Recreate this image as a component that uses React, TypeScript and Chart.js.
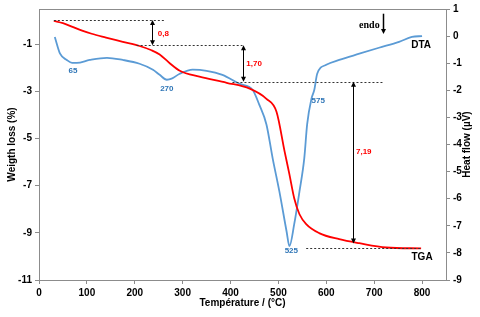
import React, { useEffect, useRef } from "react";
import { Chart, registerables } from "chart.js";
Chart.register(...registerables);

// TGA (weight loss, left axis)
const tgaTemp = [31, 50, 70, 90, 110, 140, 175, 210, 235, 252, 273, 294, 335, 392, 440, 475, 496, 513, 523, 533, 544, 558, 585, 627, 669, 725, 798];
const tgaLoss = [0, -0.1, -0.26, -0.42, -0.55, -0.71, -0.89, -1.07, -1.25, -1.43, -1.8, -2.12, -2.37, -2.63, -2.88, -3.31, -3.86, -5.55, -6.52, -7.53, -8.21, -8.63, -9.01, -9.27, -9.44, -9.62, -9.66];

// DTA (heat flow, right axis)
const dtaTemp = [33, 44, 58, 69, 79, 106, 142, 175, 210, 238, 252, 267, 277, 294, 321, 350, 383, 419, 446, 460, 475, 488, 502, 517, 523, 533, 544, 554, 560, 569, 575, 581, 600, 627, 669, 710, 752, 779, 800];
const dtaFlow = [-0.03, -0.65, -0.88, -0.99, -0.99, -0.88, -0.8, -0.88, -1.02, -1.24, -1.43, -1.61, -1.57, -1.39, -1.24, -1.28, -1.43, -1.76, -1.98, -2.53, -3.26, -4.51, -5.73, -7.2, -7.75, -6.94, -5.73, -4.51, -3.26, -2.31, -1.98, -1.39, -1.06, -0.88, -0.65, -0.43, -0.21, -0.03, 0];

const xTickValues = [0, 100, 200, 300, 400, 500, 600, 700, 800];
const leftTickValues = [-11, -9, -7, -5, -3, -1];
const rightTickValues = [-9, -8, -7, -6, -5, -4, -3, -2, -1, 0, 1];

// annotations (left-axis units)
const dashStart = [31, 204, 404, 558];
const dashEnd = [262, 425, 721, 798];
const dashLevel = [0.03, -1.04, -2.59, -9.65];
const arrowTemp = [237, 425, 656];
const arrowTop = [0.03, -1.04, -2.59];
const arrowBottom = [-1.04, -2.59, -9.45];
const lossLabels = ["0,8", "1,70", "7,19"];
const lossLabelTemp = [248, 433, 662];
const lossLabelLevel = [-0.56, -1.83, -5.55];
const peakLabels = ["65", "270", "575", "525"];
const peakLabelTemp = [71, 267, 583, 527];
const peakLabelLevel = [-2.12, -2.88, -3.39, -9.77];
const curveLabels = ["DTA", "TGA"];
const curveLabelTemp = [798, 800];
const curveLabelLevel = [-1.02, -10.03];
const endoLabelTemp = 690;
const endoLabelLevel = -0.18;
const endoArrowTemp = 719;
const endoArrowTop = 0.3;
const endoArrowBottom = -0.56;

const RED = "#ff0000";
const BLUE = "#5b9bd5";
const SANS = "'Liberation Sans', Arial, sans-serif";

function arrowHead(ctx: CanvasRenderingContext2D, x: number, y: number, dir: number) {
  ctx.beginPath();
  ctx.moveTo(x, y);
  ctx.lineTo(x - 2.5, y - dir * 5);
  ctx.lineTo(x + 2.5, y - dir * 5);
  ctx.closePath();
  ctx.fill();
}

const annotPlugin = {
  id: "annot",
  afterDatasetsDraw(chart: any) {
    const ctx: CanvasRenderingContext2D = chart.ctx;
    const xs = chart.scales.x;
    const yl = chart.scales.y;
    const ca = chart.chartArea;
    ctx.save();
    // top border
    ctx.strokeStyle = "#8c8c8c";
    ctx.lineWidth = 1;
    ctx.beginPath();
    ctx.moveTo(ca.left, ca.top + 0.5);
    ctx.lineTo(ca.right, ca.top + 0.5);
    ctx.stroke();
    // dashed lines
    ctx.strokeStyle = "#333";
    ctx.setLineDash([2, 2]);
    for (let i = 0; i < dashStart.length; i++) {
      const y = Math.round(yl.getPixelForValue(dashLevel[i])) + 0.5;
      ctx.beginPath();
      ctx.moveTo(xs.getPixelForValue(dashStart[i]), y);
      ctx.lineTo(xs.getPixelForValue(dashEnd[i]), y);
      ctx.stroke();
    }
    ctx.setLineDash([]);
    // arrows
    ctx.strokeStyle = "#000";
    ctx.fillStyle = "#000";
    for (let i = 0; i < arrowTemp.length; i++) {
      const x = Math.round(xs.getPixelForValue(arrowTemp[i])) + 0.5;
      const y1 = yl.getPixelForValue(arrowTop[i]);
      const y2 = yl.getPixelForValue(arrowBottom[i]);
      ctx.beginPath();
      ctx.moveTo(x, y1 + 3);
      ctx.lineTo(x, y2 - 3);
      ctx.stroke();
      arrowHead(ctx, x, y1, -1);
      arrowHead(ctx, x, y2, 1);
    }
    // endo arrow
    {
      const x = Math.round(xs.getPixelForValue(endoArrowTemp)) + 0.5;
      const y1 = yl.getPixelForValue(endoArrowTop);
      const y2 = yl.getPixelForValue(endoArrowBottom);
      ctx.lineWidth = 1.5;
      ctx.beginPath();
      ctx.moveTo(x, y1);
      ctx.lineTo(x, y2 - 3);
      ctx.stroke();
      arrowHead(ctx, x, y2, 1);
      ctx.lineWidth = 1;
    }
    // labels
    ctx.textBaseline = "middle";
    ctx.font = `bold 8px ${SANS}`;
    ctx.fillStyle = RED;
    ctx.textAlign = "left";
    for (let i = 0; i < lossLabels.length; i++) {
      ctx.fillText(lossLabels[i], xs.getPixelForValue(lossLabelTemp[i]), yl.getPixelForValue(lossLabelLevel[i]));
    }
    ctx.fillStyle = "#2e75b6";
    ctx.textAlign = "center";
    for (let i = 0; i < peakLabels.length; i++) {
      ctx.fillText(peakLabels[i], xs.getPixelForValue(peakLabelTemp[i]), yl.getPixelForValue(peakLabelLevel[i]));
    }
    ctx.fillStyle = "#000";
    ctx.font = `bold 10px ${SANS}`;
    for (let i = 0; i < curveLabels.length; i++) {
      ctx.fillText(curveLabels[i], xs.getPixelForValue(curveLabelTemp[i]), yl.getPixelForValue(curveLabelLevel[i]));
    }
    ctx.font = "bold 10px 'Liberation Serif', 'Times New Roman', serif";
    ctx.fillText("endo", xs.getPixelForValue(endoLabelTemp), yl.getPixelForValue(endoLabelLevel));
    // right axis title (reads bottom to top)
    ctx.font = `bold 10px ${SANS}`;
    ctx.translate(467, (ca.top + ca.bottom) / 2);
    ctx.rotate(-Math.PI / 2);
    ctx.fillText("Heat flow (\u00b5V)", 0, 0);
    ctx.restore();
  },
};

export default function App() {
  const ref = useRef<HTMLCanvasElement | null>(null);
  useEffect(() => {
    document.body.style.margin = "0";
    const tickFont = { family: SANS, size: 10, weight: "bold" as const };
    const chart = new Chart(ref.current as HTMLCanvasElement, {
      type: "line",
      data: {
        datasets: [
          {
            label: "TGA",
            data: tgaTemp.map((t, i) => ({ x: t, y: tgaLoss[i] })),
            borderColor: RED,
            borderWidth: 1.8,
            pointRadius: 0,
            cubicInterpolationMode: "monotone",
            yAxisID: "y",
          },
          {
            label: "DTA",
            data: dtaTemp.map((t, i) => ({ x: t, y: dtaFlow[i] })),
            borderColor: BLUE,
            borderWidth: 1.8,
            pointRadius: 0,
            cubicInterpolationMode: "monotone",
            yAxisID: "y2",
          },
        ],
      },
      options: {
        animation: false,
        responsive: false,
        devicePixelRatio: 1,
        layout: { padding: { top: 7, left: 0, right: 0, bottom: 0 } },
        plugins: { legend: { display: false }, tooltip: { enabled: false } },
        scales: {
          x: {
            type: "linear",
            min: 0,
            max: 850,
            afterBuildTicks: (s: any) => { s.ticks = xTickValues.map((v) => ({ value: v })); },
            afterFit: (s: any) => { s.height = 37; },
            ticks: { font: tickFont, color: "#000", maxRotation: 0, padding: 3 },
            grid: { drawOnChartArea: false, drawTicks: true, tickLength: 4, color: "#8c8c8c" },
            border: { display: true, color: "#8c8c8c" },
            title: { display: true, text: "Température / (°C)", font: { family: SANS, size: 10, weight: "bold" }, color: "#000", padding: { top: 0, bottom: 8 } },
          },
          y: {
            type: "linear",
            position: "left",
            min: -11,
            max: 0.5,
            afterBuildTicks: (s: any) => { s.ticks = leftTickValues.map((v) => ({ value: v })); },
            afterFit: (s: any) => { s.width = 39; },
            ticks: { font: tickFont, color: "#000", padding: 3 },
            grid: { drawOnChartArea: false, drawTicks: true, tickLength: 4, color: "#8c8c8c" },
            border: { display: true, color: "#8c8c8c" },
            title: { display: true, text: "Weigth loss (%)", font: { family: SANS, size: 10, weight: "bold" }, color: "#000", padding: { top: 6, bottom: 0 } },
          },
          y2: {
            type: "linear",
            position: "right",
            min: -9,
            max: 1,
            afterBuildTicks: (s: any) => { s.ticks = rightTickValues.map((v) => ({ value: v })); },
            afterFit: (s: any) => { s.width = 34; },
            ticks: { font: tickFont, color: "#000", padding: 3 },
            grid: { drawOnChartArea: false, drawTicks: true, tickLength: 4, color: "#8c8c8c" },
            border: { display: true, color: "#8c8c8c" },
          },
        },
      },
      plugins: [annotPlugin],
    } as any);
    return () => chart.destroy();
  }, []);
  return (
    <div style={{ position: "fixed", left: 0, top: 0, width: 480, height: 317, background: "#fff" }}>
      <canvas ref={ref} width={480} height={317} />
    </div>
  );
}
